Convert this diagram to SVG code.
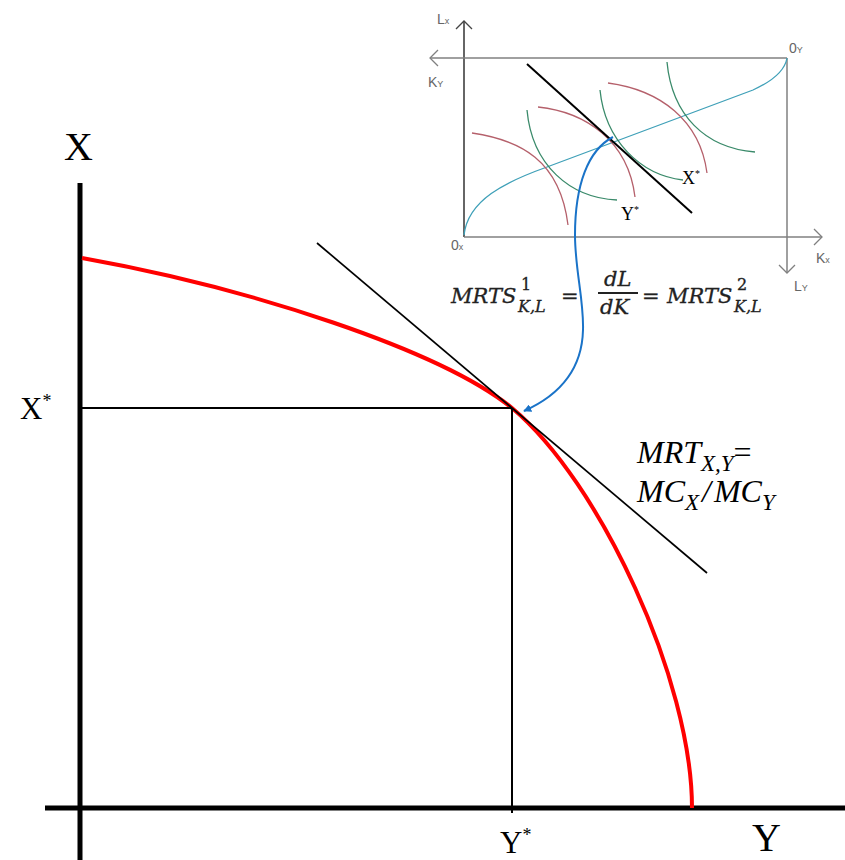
<svg xmlns="http://www.w3.org/2000/svg" width="845" height="860" viewBox="0 0 845 860">
<defs>
<style>
.ax{stroke:#000;stroke-width:5;fill:none}
.thin{stroke:#000;stroke-width:2;fill:none}
.gray{stroke:#808080;stroke-width:1.5;fill:none}
.red{stroke:#b5606b;stroke-width:1.3;fill:none}
.grn{stroke:#3a8a6a;stroke-width:1.3;fill:none}
.serif{font-family:"Liberation Serif","DejaVu Serif",serif;fill:#000}
.small{font-family:"Liberation Sans","DejaVu Sans",sans-serif;fill:#666;font-size:14px}
.sub{font-size:9px}
.eq{font-family:"DejaVu Serif","Liberation Serif",serif;font-style:italic;fill:#222;font-size:21px;stroke:#222;stroke-width:0.3}
.eqs{font-family:"DejaVu Serif","Liberation Serif",serif;font-style:italic;fill:#222;font-size:16px;stroke:#222;stroke-width:0.3}
.up{font-style:normal}
</style>
<marker id="ah" viewBox="0 0 10 10" refX="9" refY="5" markerWidth="8" markerHeight="8" orient="auto" markerUnits="userSpaceOnUse">
<path d="M0,0 L10,5 L0,10 z" fill="#1a73c8"/>
</marker>
</defs>
<rect width="845" height="860" fill="#fff"/>

<g id="axes">
<line class="ax" x1="80" y1="183" x2="80" y2="860"/>
<line class="ax" x1="45" y1="808" x2="845" y2="808"/>
</g>

<g id="edgeworth-box">
<line x1="464" y1="237" x2="464" y2="21" stroke="#333" stroke-width="1.5"/>
<polyline points="456,29 464,21 472,29" stroke="#444" stroke-width="1.3" fill="none"/>
<line class="gray" x1="430" y1="58" x2="787" y2="58"/>
<polyline points="438,50 430,58 438,66" stroke="#808080" stroke-width="1.3" fill="none"/>
<line class="gray" x1="464" y1="237" x2="822" y2="237"/>
<polyline points="814,229 822,237 814,245" stroke="#808080" stroke-width="1.3" fill="none"/>
<line class="gray" x1="787" y1="58" x2="787" y2="273"/>
<polyline points="779,265 787,273 795,265" stroke="#808080" stroke-width="1.3" fill="none"/>
<path d="M464,235 C468,200 505,182 547,167 L753,90 C775,80 785,70 787,58" stroke="#3fa0b8" stroke-width="1.3" fill="none"/>
<path class="red" d="M472,133 C520,140 560,160 568,225"/>
<path class="red" d="M538,107 C585,112 628,140 635,197"/>
<path class="red" d="M608,83 C660,90 700,120 707,173"/>
<path class="grn" d="M527,110 C532,165 570,198 617,200"/>
<path class="grn" d="M600,90 C605,140 640,175 683,180"/>
<path class="grn" d="M667,62 C672,115 705,148 755,152"/>
<line x1="527" y1="64" x2="692" y2="213" stroke="#000" stroke-width="2"/>
<text class="serif" x="682" y="184" font-size="18">X<tspan font-size="10" dy="-7">*</tspan></text>
<text class="serif" x="621" y="220" font-size="18">Y<tspan font-size="10" dy="-7">*</tspan></text>
<text class="small" x="437" y="24">L<tspan class="sub">x</tspan></text>
<text class="small" x="428" y="87">K<tspan class="sub">Y</tspan></text>
<text class="small" x="789" y="53">0<tspan class="sub">Y</tspan></text>
<text class="small" x="451" y="250">0<tspan class="sub">x</tspan></text>
<text class="small" x="816" y="263">K<tspan class="sub">x</tspan></text>
<text class="small" x="794" y="291">L<tspan class="sub">Y</tspan></text>
</g>

<g id="equation">
<text class="eq" x="451" y="303">MRTS</text>
<text class="eqs up" x="521" y="290">1</text>
<text class="eqs" x="518" y="312">K,L</text>
<text class="eq up" x="561" y="303">=</text>
<text class="eq" x="604" y="286">dL</text>
<line x1="598" y1="293" x2="638" y2="293" stroke="#222" stroke-width="1.8"/>
<text class="eq" x="600" y="314">dK</text>
<text class="eq up" x="642" y="303">=</text>
<text class="eq" x="667" y="303">MRTS</text>
<text class="eqs up" x="737" y="290">2</text>
<text class="eqs" x="734" y="312">K,L</text>
</g>

<g id="ppf">
<path d="M82,258 C250,288 440,350 512,408 C600,482 692,680 692,808" stroke="#ff0000" stroke-width="4" fill="none"/>
</g>

<g id="connectors">
<line class="thin" x1="80" y1="408" x2="512" y2="408"/>
<line class="thin" x1="512" y1="408" x2="512" y2="813"/>
<line x1="317" y1="243" x2="707" y2="573" stroke="#000" stroke-width="1.7"/>
<path d="M613,137 C588,150 575,185 575,235 C575,270 584,300 583,330 C582,370 560,395 524,411" stroke="#1a73c8" stroke-width="2" fill="none" marker-end="url(#ah)"/>
</g>

<g id="labels">
<text class="serif" x="64" y="160" font-size="40">X</text>
<text class="serif" x="20" y="419" font-size="31">X<tspan font-size="18" dy="-12">*</tspan></text>
<text class="serif" x="500" y="853" font-size="31">Y<tspan font-size="18" dy="-12">*</tspan></text>
<text class="serif" x="752" y="851" font-size="40">Y</text>
<text class="serif" x="637" y="463" font-size="32" font-style="italic">MRT<tspan font-size="23" dy="8">X,Y</tspan><tspan dy="-8" font-style="normal">=</tspan></text>
<text class="serif" x="637" y="502" font-size="32" font-style="italic">MC<tspan font-size="23" dy="8">X</tspan><tspan dy="-8" dx="3">/</tspan><tspan dx="3">MC</tspan><tspan font-size="23" dy="8">Y</tspan></text>
</g>
</svg>
